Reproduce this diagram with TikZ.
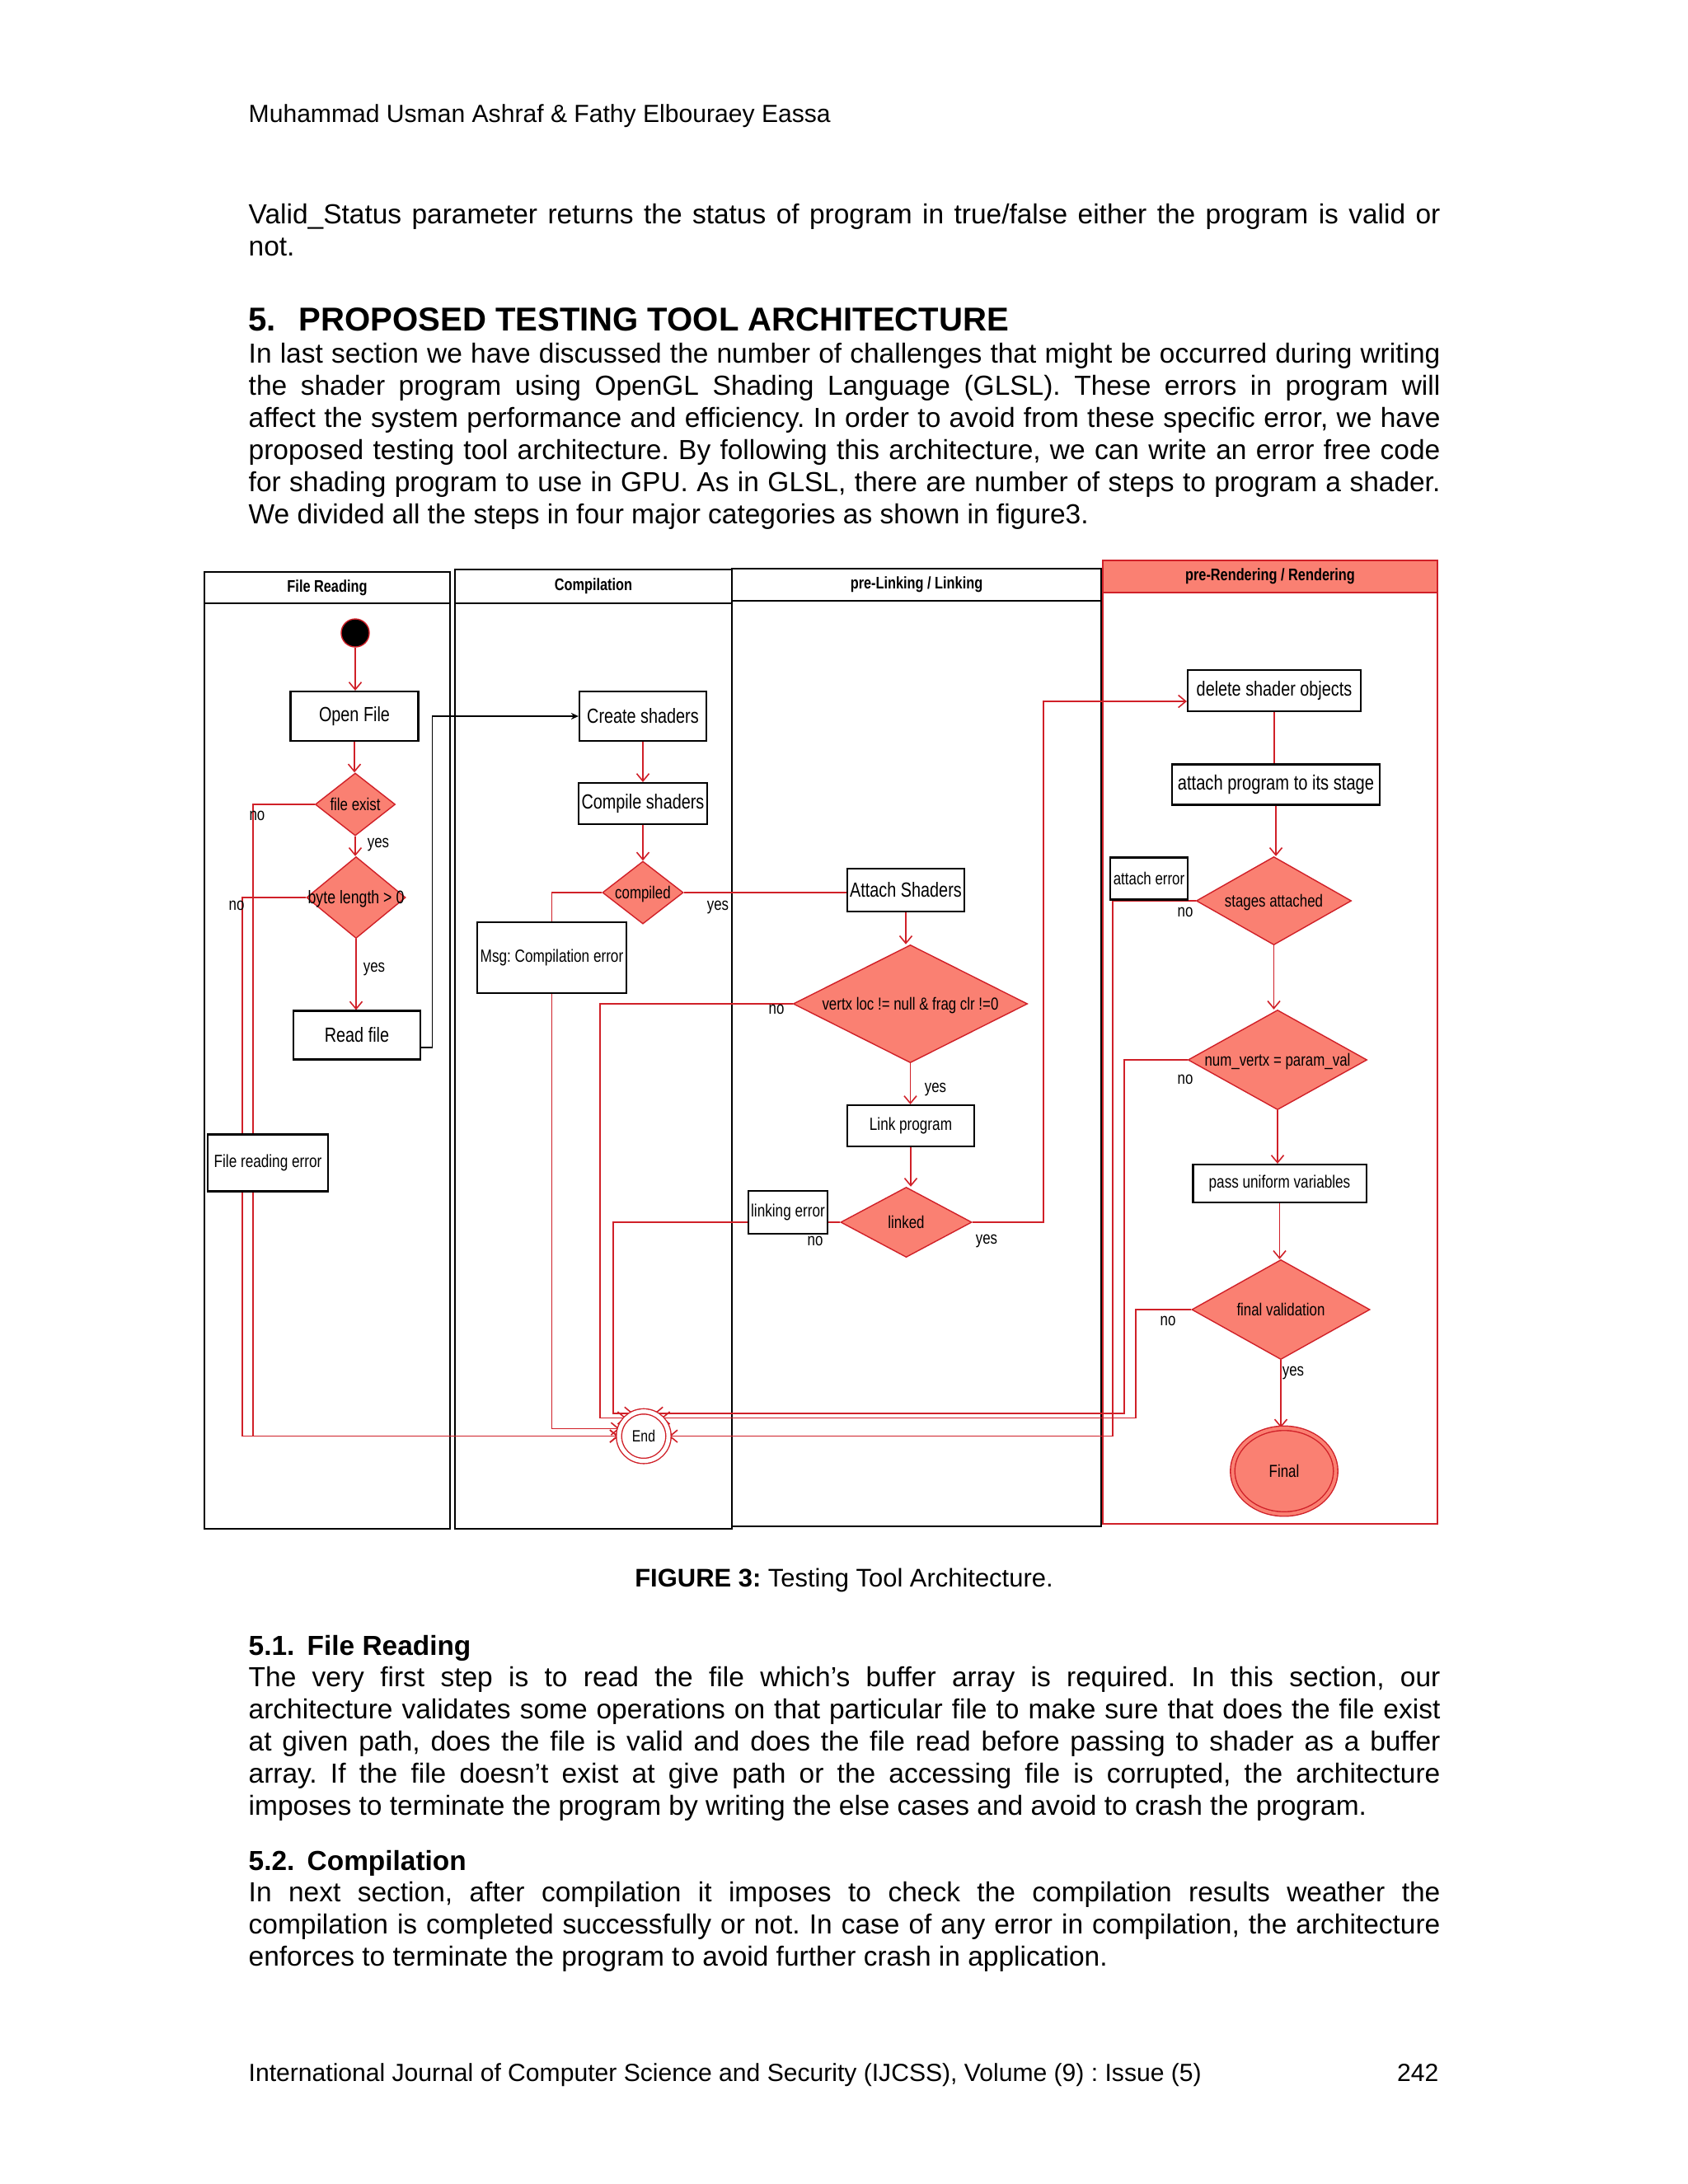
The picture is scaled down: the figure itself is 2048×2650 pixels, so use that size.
\documentclass[tikz,border=0pt]{standalone}
\usepackage{fontspec}
\setmainfont{Liberation Sans}
\newfontfamily\dgfont[FakeStretch=0.8]{Liberation Sans}
\usetikzlibrary{arrows.meta,shapes.geometric,positioning,calc}
\pgfdeclarelayer{lanes}
\pgfdeclarelayer{lines}
\pgfsetlayers{lanes,lines,main}
\definecolor{lnred}{RGB}{208,32,40}
\definecolor{dsalmon}{RGB}{250,128,114}
\frenchspacing
\newcommand{\dgbig}{\dgfont\fontsize{7.05}{8.4}\selectfont}
\newcommand{\dgmid}{\dgfont\fontsize{6.1}{7.3}\selectfont}
\newcommand{\dgsmall}{\dgfont\fontsize{6.0}{7.2}\selectfont}
\newcommand{\dghead}{\dgfont\bfseries\fontsize{5.8}{7}\selectfont}
\newcommand{\bodyfont}{\fontsize{9.52}{11.07}\selectfont}
\newcommand{\natsp}{\spaceskip=0pt\xspaceskip=0pt}
\newcommand{\ctext}[1]{\makebox[0pt]{\raisebox{-0.35em}[0pt][0pt]{#1}}}
\newcommand{\fl}[1]{\makebox[14.45cm][s]{\natsp #1}}

\begin{document}
\begin{tikzpicture}[x=0.01cm, y=-0.01cm,
    actbox/.style={draw, fill=white, line width=0.6pt, font=\dgbig, inner sep=1pt},
    decis/.style={diamond, draw=lnred, fill=dsalmon, line width=0.4pt, inner sep=0pt, font=\dgsmall},
    lbl/.style={font=\dgsmall, inner sep=0pt},
    flow/.style={draw=lnred, line width=0.45pt, -{Straight Barb[length=0.09cm,width=0.15cm]}},
    plainred/.style={draw=lnred, line width=0.45pt},
    blackflow/.style={draw=black, line width=0.5pt, -{Stealth[length=0.09cm,width=0.08cm]}},
    lane/.style={draw, line width=0.7pt},
    lanehead/.style={draw, fill=white, line width=0.7pt, font=\dghead, inner sep=0pt},
    para/.style={anchor=north west, inner sep=0pt, text width=14.45cm, align=left, font=\bodyfont}
]
\useasboundingbox (0,0) rectangle (2048,2650);

% page text
\node[anchor=base west, inner sep=0pt, font=\fontsize{8.56}{10}\selectfont] (runhead) at (301,148) {Muhammad Usman Ashraf \& Fathy Elbouraey Eassa};
\node[para] (parvalid) at (301,247) {\natsp\fl{Valid\_Status parameter returns the status of program in true/false either the program is valid or}\\
not.};
\node[anchor=base west, inner sep=0pt, font=\bfseries\fontsize{11.4}{13}\selectfont] (sechead) at (301,401) {\makebox[0.61cm][l]{5.}PROPOSED TESTING TOOL ARCHITECTURE};
\node[para] (parintro) at (301,416) {\natsp\fl{In last section we have discussed the number of challenges that might be occurred during writing}\\
\fl{the shader program using OpenGL Shading Language (GLSL). These errors in program will}\\
\fl{affect the system performance and efficiency. In order to avoid from these specific error, we have}\\
\fl{proposed testing tool architecture. By following this architecture, we can write an error free code}\\
\fl{for shading program to use in GPU. As in GLSL, there are number of steps to program a shader.}\\
We divided all the steps in four major categories as shown in figure3.};
\node[anchor=base, inner sep=0pt, font=\fontsize{8.8}{10.5}\selectfont] (figcap) at (1024,1925) {\textbf{FIGURE 3:} Testing Tool Architecture.};
\node[anchor=base west, inner sep=0pt, font=\bfseries\fontsize{9.5}{11.5}\selectfont] (subread) at (301,2008) {\makebox[0.71cm][l]{5.1.}File Reading};
\node[para] (parread) at (301,2022) {\natsp\fl{The very first step is to read the file which’s buffer array is required. In this section, our}\\
\fl{architecture validates some operations on that particular file to make sure that does the file exist}\\
\fl{at given path, does the file is valid and does the file read before passing to shader as a buffer}\\
\fl{array. If the file doesn’t exist at give path or the accessing file is corrupted, the architecture}\\
imposes to terminate the program by writing the else cases and avoid to crash the program.};
\node[anchor=base west, inner sep=0pt, font=\bfseries\fontsize{9.5}{11.5}\selectfont] (subcomp) at (301,2269) {\makebox[0.71cm][l]{5.2.}Compilation};
\node[para] (parcomp) at (301,2283) {\natsp\fl{In next section, after compilation it imposes to check the compilation results weather the}\\
\fl{compilation is completed successfully or not. In case of any error in compilation, the architecture}\\
enforces to terminate the program to avoid further crash in application.};
\node[anchor=base west, inner sep=0pt, font=\fontsize{8.56}{10}\selectfont] (footl) at (301,2525) {International Journal of Computer Science and Security (IJCSS), Volume (9) : Issue (5)};
\node[anchor=base east, inner sep=0pt, font=\fontsize{8.56}{10}\selectfont] (footr) at (1746,2525) {242};

% swimlanes
\begin{pgfonlayer}{lanes}
\fill[white] (0,0) rectangle (2048,2650);
\draw[lane] (248,694) rectangle (546,1855);
\draw[lane] (552,691) rectangle (888,1855);
\draw[lane] (888,690) rectangle (1336,1852);
\draw[lane, draw=lnred] (1338,680) rectangle (1744,1849);
\end{pgfonlayer}
\node[lanehead, minimum width=2.98cm, minimum height=0.38cm] (hread) at (397,713) {File Reading};
\node[lanehead, minimum width=3.36cm, minimum height=0.41cm] (hcomp) at (720,711.5) {Compilation};
\node[lanehead, minimum width=4.48cm, minimum height=0.39cm] (hlink) at (1112,709.5) {pre-Linking / Linking};
\node[lanehead, draw=lnred, fill=dsalmon, minimum width=4.06cm, minimum height=0.39cm] (hrend) at (1541,699.5) {pre-Rendering / Rendering};

% file reading
\node[circle, fill=black, draw=lnred, minimum size=0.34cm, inner sep=0pt] (start) at (431,768) {};
\node[actbox, minimum width=1.55cm, minimum height=0.60cm] (open) at (430,869) {Open File};
\node[decis, minimum width=0.97cm, minimum height=0.76cm] (fexist) at (431,976) {\ctext{file exist}};
\node[decis, font=\dgfont\fontsize{6.3}{7.5}\selectfont, minimum width=1.20cm, minimum height=0.99cm] (blen) at (432,1089) {\ctext{byte length > 0}};
\node[actbox, minimum width=1.54cm, minimum height=0.59cm] (readf) at (433,1256) {Read file};
\node[actbox, font=\dgmid, minimum width=1.46cm, minimum height=0.69cm] (frerr) at (325,1411) {File reading error};

% compilation
\node[actbox, minimum width=1.54cm, minimum height=0.60cm] (create) at (780,869) {Create shaders};
\node[actbox, minimum width=1.54cm, minimum height=0.50cm] (compile) at (780,975) {Compile shaders};
\node[decis, minimum width=0.98cm, minimum height=0.76cm] (compiled) at (780,1083) {\ctext{compiled}};
\node[actbox, font=\dgmid, minimum width=1.80cm, minimum height=0.86cm] (msg) at (669.5,1162) {Msg: Compilation error};
\node[circle, draw=lnred, fill=white, line width=0.4pt, double, double distance=0.05cm, minimum size=0.6cm, inner sep=0pt, font=\dgfont\fontsize{5.6}{7}\selectfont] (endn) at (781,1742.6) {End};

% linking
\node[actbox, minimum width=1.40cm, minimum height=0.52cm] (attach) at (1099,1080) {Attach Shaders};
\node[decis, font=\dgfont\fontsize{6.0}{7.2}\selectfont, minimum width=2.84cm, minimum height=1.43cm] (vertx) at (1104.5,1218) {\ctext{vertx loc != null \& frag clr !=0}};
\node[actbox, font=\dgmid, minimum width=1.54cm, minimum height=0.50cm] (linkp) at (1105,1366) {Link program};
\node[decis, minimum width=1.59cm, minimum height=0.85cm] (linked) at (1099.5,1483) {\ctext{linked}};
\node[actbox, font=\dgmid, minimum width=0.94cm, minimum height=0.52cm] (linkerr) at (956,1471) {linking error};

% rendering
\node[actbox, minimum width=2.10cm, minimum height=0.50cm] (delso) at (1546,838) {delete shader objects};
\node[actbox, font=\dgfont\fontsize{7.15}{8.5}\selectfont, minimum width=2.52cm, minimum height=0.49cm] (attprog) at (1548,952) {attach program to its stage};
\node[decis, minimum width=1.88cm, minimum height=1.07cm] (staged) at (1545.5,1093) {\ctext{stages attached}};
\node[actbox, font=\dgsmall, minimum width=0.94cm, minimum height=0.51cm] (atterr) at (1394,1066) {attach error};
\node[decis, font=\dgfont\fontsize{6.0}{7.2}\selectfont, minimum width=2.17cm, minimum height=1.21cm] (numv) at (1550,1286) {\ctext{num\_vertx = param\_val}};
\node[actbox, font=\dgmid, minimum width=2.10cm, minimum height=0.46cm] (passu) at (1552.5,1436) {pass uniform variables};
\node[decis, minimum width=2.16cm, minimum height=1.21cm] (finalv) at (1554,1589) {\ctext{final validation}};
\node[ellipse, draw=lnred, fill=dsalmon, line width=0.4pt, double=dsalmon, double distance=0.04cm, minimum width=1.25cm, minimum height=1.04cm, inner sep=0pt, font=\dgsmall] (final) at (1558,1785) {Final};

% channels of the return lines
\coordinate (chA) at (307,1700);
\coordinate (chB) at (294,1700);
\coordinate (chD) at (728,1700);
\coordinate (chE) at (744,1700);
\coordinate (chF) at (1266,1000);
\coordinate (chG) at (1350,1700);
\coordinate (chH) at (1364,1700);
\coordinate (chI) at (1378,1700);
\coordinate (chJ) at (524.5,869);
\coordinate (delin) at ([yshift=-0.13cm]delso.west);

\begin{pgfonlayer}{lines}
\draw[flow] (start) -- (start |- open.north);
\draw[flow] (open) -- (open |- fexist.north);
\draw[flow] (fexist) -- (fexist |- blen.north);
\draw[flow] (blen) -- (blen |- readf.north);
\draw[blackflow] ([yshift=-0.15cm]readf.east) -| (chJ) -- (create.west);
\draw[flow] (fexist.west) -| (chA |- endn.west) -- (endn.west);
\draw[flow] (blen.west) -| (chB |- endn.west) -- (endn.west);
\draw[flow] (create) -- (compile);
\draw[flow] (compile) -- (compiled);
\draw[plainred] (compiled.west) -| (msg.north);
\draw[flow] (msg.south) |- (endn.163);
\draw[plainred] (compiled.east) -- (compiled.east -| attach.west);
\draw[flow] (attach) -- (attach |- vertx.north);
\draw[flow] (vertx.west) -| (chD |- endn.134) -- (endn.134);
\draw[flow] (vertx) -- (vertx |- linkp.north);
\draw[flow] (linkp) -- (linkp |- linked.north);
\draw[flow] (linked.west) -| (chE |- endn.115) -- (endn.115);
\draw[flow] (linked.east) -| (chF |- delin) -- (delin);
\draw[plainred] (delso) -- (delso |- attprog.north);
\draw[flow] (attprog) -- (attprog |- staged.north);
\draw[flow] (staged.west) -| (chG |- endn.east) -- (endn.east);
\draw[flow] (staged) -- (staged |- numv.north);
\draw[flow] (numv.west) -| (chH |- endn.65) -- (endn.65);
\draw[flow] (numv) -- (numv |- passu.north);
\draw[flow] (passu) -- (passu |- finalv.north);
\draw[flow] (finalv.west) -| (chI |- endn.46) -- (endn.46);
\draw[flow] (finalv) -- (finalv |- final.north);
\end{pgfonlayer}

% branch labels
\node[lbl] (yfe) at (459,1025) {yes};
\node[lbl] (nfe) at (312,990) {no};
\node[lbl] (ybl) at (454,1176) {yes};
\node[lbl] (nbl) at (287,1099) {no};
\node[lbl] (ycp) at (871,1101) {yes};
\node[lbl] (nvx) at (942,1225) {no};
\node[lbl] (yvx) at (1135,1322) {yes};
\node[lbl] (nlk) at (989,1506) {no};
\node[lbl] (ylk) at (1197,1506) {yes};
\node[lbl] (nst) at (1438,1107) {no};
\node[lbl] (nnv) at (1438,1310) {no};
\node[lbl] (nfv) at (1417,1603) {no};
\node[lbl] (yfv) at (1569,1666) {yes};
\end{tikzpicture}
\end{document}
